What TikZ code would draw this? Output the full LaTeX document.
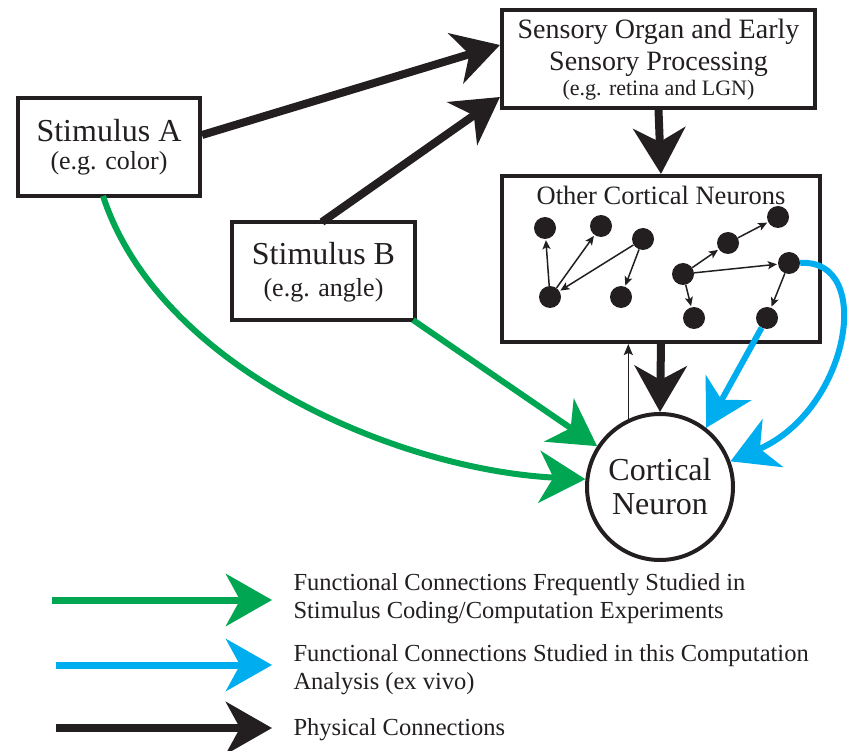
\documentclass[tikz,border=0pt]{standalone}
\usepackage{fontspec}
\setmainfont{Liberation Serif}
\usetikzlibrary{arrows.meta}
\definecolor{fgreen}{RGB}{0,166,81}
\definecolor{fblue}{RGB}{0,174,239}
\definecolor{ink}{RGB}{35,31,32}
\begin{document}
\begin{tikzpicture}[x=1pt,y=-1pt,
  box/.style={draw=ink,line width=4pt,fill=white,inner sep=0pt},
  big/.style={font=\fontsize{32}{36}\selectfont},
  med/.style={font=\fontsize{26}{30}\selectfont},
  dot/.style={circle,fill=ink,minimum size=22pt,inner sep=0pt},
  bigtip/.style={-{Stealth[length=46pt,width=52pt,inset=14pt]}},
  blk/.style={ink,line width=8pt,bigtip},
  grn/.style={fgreen,line width=6pt,bigtip},
  blu/.style={fblue,line width=6pt,bigtip},
  small/.style={ink,line width=1.5pt,-{Stealth[length=9pt,width=8pt,inset=2pt]},shorten >=1pt},
  leg/.style={font=\fontsize{24.5}{28}\selectfont,align=left,anchor=west,text=ink}
]
\useasboundingbox (0,0) rectangle (849,751);
% boxes
\node[box,minimum width=182pt,minimum height=98pt] (sa) at (109,147) {};
\node[big,text=ink] at (109,131) {Stimulus A};
\node[med,text=ink] at (109,163) {(e.g. color)};
\node[box,minimum width=183pt,minimum height=98pt] (sb) at (323.5,271) {};
\node[big,text=ink] at (323.5,254) {Stimulus B};
\node[med,text=ink] at (323.5,290) {(e.g. angle)};
\node[box,minimum width=313pt,minimum height=98pt] (so) at (658.5,59) {};
\node[font=\fontsize{28}{30}\selectfont,text=ink] at (658.5,32) {Sensory Organ and Early};
\node[font=\fontsize{28}{30}\selectfont,text=ink] at (658.5,64) {Sensory Processing};
\node[font=\fontsize{22}{24}\selectfont,text=ink] at (658.5,90) {(e.g. retina and LGN)};
\node[box,minimum width=318pt,minimum height=166pt] (oc) at (661,259) {};
\node[font=\fontsize{26.5}{28}\selectfont,text=ink] at (661,195) {Other Cortical Neurons};
\node[box,circle,minimum size=146pt,align=center,big,text=ink] (cn) at (660,487) {Cortical\\[-2pt]Neuron};
% little neurons
\node[dot] (n1) at (545,228) {};
\node[dot] (n2) at (601,226) {};
\node[dot] (n3) at (643,239) {};
\node[dot] (n4) at (550,297) {};
\node[dot] (n5) at (621,297) {};
\node[dot] (n6) at (683,274) {};
\node[dot] (n7) at (728,243) {};
\node[dot] (n8) at (778,217) {};
\node[dot] (n9) at (789,263) {};
\node[dot] (n10) at (694,318) {};
\node[dot] (n11) at (767,318) {};
\draw[small] (n4) -- (n1);
\draw[small] (n4) -- (n2);
\draw[small] (n3) -- (n4);
\draw[small] (n3) -- (n5);
\draw[small] (n6) -- (n7);
\draw[small] (n7) -- (n8);
\draw[small] (n6) -- (n9);
\draw[small] (n6) -- (n10);
\draw[small] (n9) -- (n11);
% black connections
\draw[blk] (sa.east |- 0,135) -- (so.west |- 0,45);
\draw[blk] (322,222) -- (so.west |- 0,97);
\draw[blk] (so.south) -- (oc.north);
\draw[blk] (oc.south) -- (cn.north);
\draw[ink,line width=1.5pt,-{Stealth[length=11pt,width=9pt,inset=2pt]}] (cn.115) -- (cn.115 |- oc.south);
% green
\draw[grn] (103,196) .. controls (160,370) and (400,470) .. (cn.174);
\draw[grn] (413,320) -- (cn.147);
% blue
\draw[blu] (n11) -- (cn.52);
\draw[blu] (n9.east) .. controls (875,258) and (850,410) .. (cn.20);
% legend
\coordinate (g0) at (52,600); \coordinate (g1) at (272,600);
\coordinate (b0) at (56,665); \coordinate (b1) at (272,665);
\coordinate (k0) at (56,728); \coordinate (k1) at (272,728);
\draw[grn,line width=7pt] (g0) -- (g1);
\draw[blu,line width=7pt] (b0) -- (b1);
\draw[blk] (k0) -- (k1);
\node[leg] at (290,599) {Functional Connections Frequently Studied in\\Stimulus Coding/Computation Experiments};
\node[leg] at (290,670) {Functional Connections Studied in this Computation\\Analysis (ex vivo)};
\node[leg] at (290,730) {Physical Connections};
\end{tikzpicture}
\end{document}
